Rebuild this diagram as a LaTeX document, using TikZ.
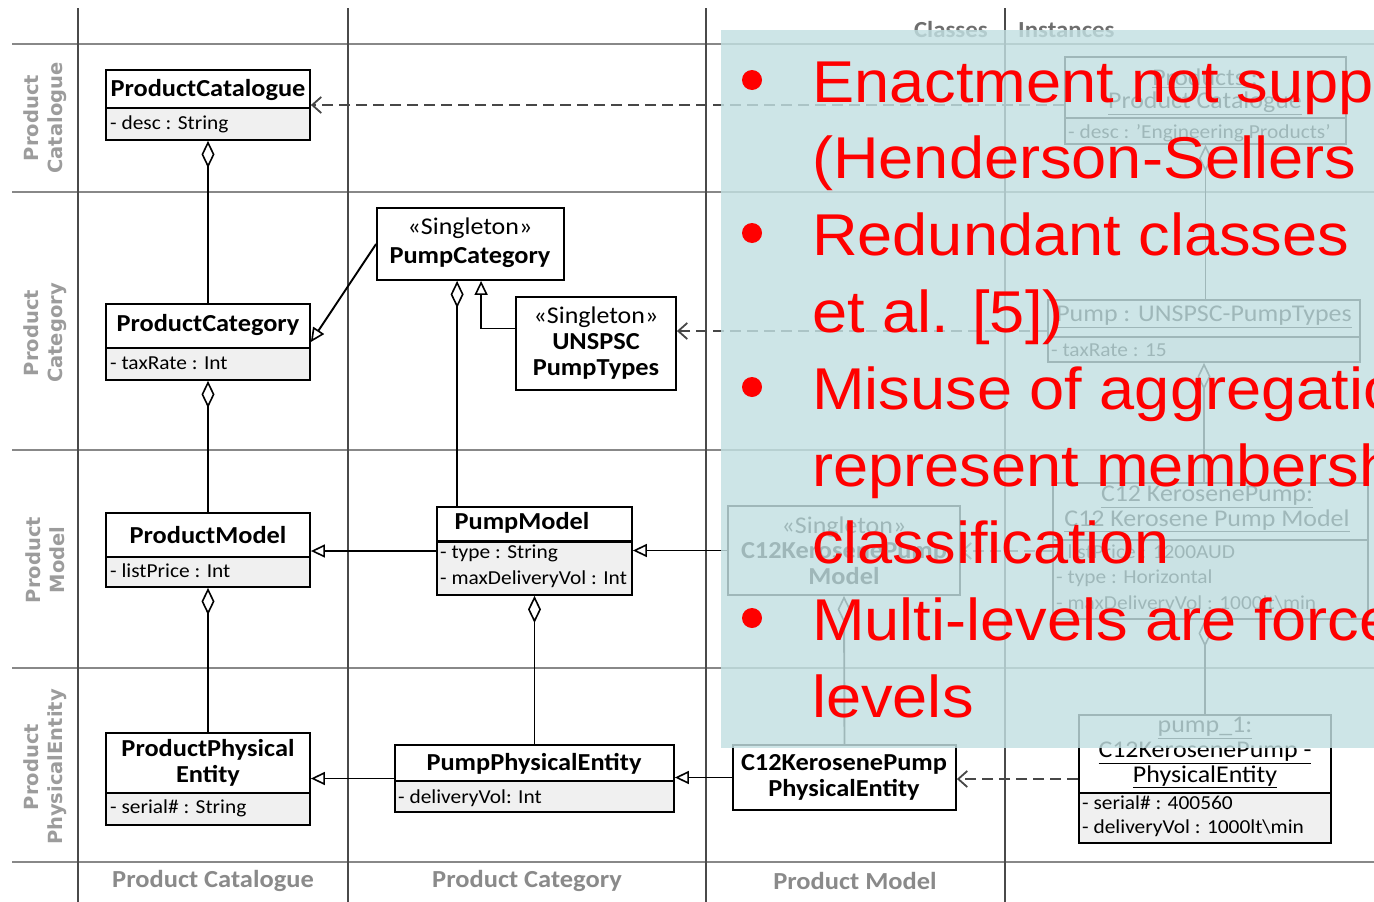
\documentclass[tikz,border=0pt]{standalone}
\usepackage{fontspec}
\setmainfont{Carlito}[FakeStretch=1.08]
\newfontfamily\rowfont{DejaVu Sans}
\newfontfamily\slidefont{Liberation Sans}[FakeStretch=1.07]
\usetikzlibrary{arrows.meta,fit,calc}

\definecolor{attrgray}{HTML}{F0F0F0}
\definecolor{rowgray}{HTML}{9C9C9C}
\definecolor{colgray}{HTML}{8A8A8A}
\definecolor{headgray}{HTML}{6E6E6E}
\definecolor{hgrid}{HTML}{888888}
\definecolor{vgrid}{HTML}{4A4A4A}
\definecolor{panel}{RGB}{194,224,226}
\definecolor{slidered}{RGB}{255,0,0}

% class box with a name compartment and a grey attribute compartment
\newcommand\clsbox[7][1.4pt]{%
  \fill[white] (#3,#4) rectangle (#5,#7);
  \fill[attrgray] (#3,#7) rectangle (#5,#6);
  \draw[line width=#1] (#3,#7) -- (#5,#7);
  \node[umlbox, fit={(#3,#4) (#5,#6)}] (#2) {};
}
% class box with a single compartment
\newcommand\plainbox[5]{%
  \fill[white] (#2,#3) rectangle (#4,#5);
  \node[umlbox, fit={(#2,#3) (#4,#5)}] (#1) {};
}

\tikzset{
  umlbox/.style={draw=black, line width=1.8pt, inner sep=0pt},
  title/.style={font=\bfseries\fontsize{24.4}{26}\selectfont, inner sep=0pt, align=center},
  stereo/.style={font=\fontsize{24}{26}\selectfont, inner sep=0pt},
  objname/.style={font=\fontsize{24}{26}\selectfont, inner sep=0pt},
  attr/.style={font=\fontsize{19.8}{22}\selectfont, anchor=west, inner sep=0pt},
  link/.style={line width=1.9pt, draw=black},
  agg/.style={link, {Diamond[open, length=27pt, width=13pt, line width=1.6pt]}-},
  gen/.style={link, -{Triangle[open, length=14pt, width=13pt, line width=1.6pt]}},
  inst/.style={line width=2.3pt, draw=black!72, dash pattern=on 11pt off 6pt,
    -{Straight Barb[length=9pt, width=16pt, line width=1.8pt]}},
  rowlabel/.style={font=\rowfont\bfseries\fontsize{19.5}{24}\selectfont, text=rowgray,
    rotate=90, align=center, inner sep=0pt},
  collabel/.style={font=\bfseries\fontsize{24.5}{26}\selectfont, text=colgray, inner sep=0pt},
  headlabel/.style={font=\bfseries\fontsize{23}{26}\selectfont, text=headgray, inner sep=0pt},
  redtxt/.style={font=\slidefont\fontsize{59}{70}\selectfont, text=slidered,
    anchor=base west, inner sep=0pt},
  bulletdot/.style={circle, fill=slidered, minimum size=20pt, inner sep=0pt},
}

\begin{document}
\begin{tikzpicture}[x=1pt, y=-1pt]
\useasboundingbox (0,0) rectangle (1374,902);
\clip (0,0) rectangle (1374,902);
\fill[white] (0,0) rectangle (1374,902);

% ---------- swimlane grid ----------
\foreach \gy in {44,192,450,668,862}
  \draw[hgrid, line width=2.4pt] (12,\gy) -- (1374,\gy);
\foreach \gx in {78,348,706,1005}
  \draw[vgrid, line width=1.2pt] (\gx,8) -- (\gx,902);

\node[rowlabel] (rl1) at (45,118) {Product\\Catalogue};
\node[rowlabel] (rl2) at (45,333) {Product\\Category};
\node[rowlabel] (rl3) at (45,560) {Product\\Model};
\node[rowlabel] (rl4) at (45,767) {Product\\PhysicalEntity};

\node[collabel] (cl1) at (213,881) {Product Catalogue};
\node[collabel] (cl2) at (527,881) {Product Category};
\node[collabel] (cl3) at (855,881) {Product Model};

\node[headlabel, anchor=east] (hcls) at (988,30) {Classes};
\node[headlabel, anchor=west] (hins) at (1018,30) {Instances};

% ---------- classes ----------
\clsbox{pcat}{106}{70}{310}{140}{108}
\node[title] (pcatT) at (208,90) {ProductCatalogue};
\node[attr] (pcatA) at (110,124) {- desc : String};

\clsbox{pcatg}{106}{304}{310}{380}{348}
\node[title] (pcatgT) at (208,325) {ProductCategory};
\node[attr] (pcatgA) at (110,363) {- taxRate : Int};

\plainbox{pumpcat}{377}{208}{564}{280}
\node[stereo] (pumpcatS) at (470,228) {«Singleton»};
\node[title] (pumpcatT) at (470,258) {PumpCategory};

\plainbox{uns}{516}{297}{676}{390}
\node[stereo] (unsS) at (596,317) {«Singleton»};
\node[title] (unsT) at (596,356) {UNSPSC\\PumpTypes};

\clsbox{pmod}{106}{513}{310}{587}{557}
\node[title] (pmodT) at (208,535) {ProductModel};
\node[attr] (pmodA) at (110,571) {- listPrice : Int};

\clsbox[3pt]{pumpmod}{437}{507}{632}{595}{541}
\node[title] (pumpmodT) at (522,523) {PumpModel};
\node[attr] (pumpmodA1) at (440,553) {- type : String};
\node[attr] (pumpmodA2) at (440,579) {- maxDeliveryVol : Int};

\clsbox{ppe}{106}{733}{310}{825}{793}
\node[title] (ppeT) at (208,763) {ProductPhysical\\Entity};
\node[attr] (ppeA) at (110,808) {- serial\# : String};

\clsbox{pumpphys}{395}{745}{674}{812}{781}
\node[title] (pumpphysT) at (534,764) {PumpPhysicalEntity};
\node[attr] (pumpphysA) at (398,798) {- deliveryVol: Int};

\plainbox{c12mod}{728}{506}{960}{595}
\node[stereo] (c12modS) at (844,527) {«Singleton»};
\node[title] (c12modT) at (844,564) {C12KerosenePump\\Model};

\plainbox{c12pe}{733}{745}{956}{810}
\node[title] (c12peT) at (844,777) {C12KerosenePump\\PhysicalEntity};

% ---------- instances ----------
\clsbox{prodinst}{1065}{57}{1346}{144}{118}
\node[objname] (prodinstT1) at (1205,78) {\underline{Products :}};
\node[objname] (prodinstT2) at (1205,103) {\underline{Product Catalogue}};
\node[attr] (prodinstA) at (1068,133) {- desc : 'Engineering Products'};

\clsbox{pumpinst}{1048}{300}{1360}{362}{337}
\node[objname] (pumpinstT) at (1204,317) {\underline{Pump : UNSPSC-PumpTypes}};
\node[attr] (pumpinstA) at (1051,350) {- taxRate : 15};

\clsbox{c12inst}{1053}{483}{1368}{619}{540}
\node[objname] (c12instT1) at (1207,497) {\underline{C12 KerosenePump:}};
\node[objname] (c12instT2) at (1207,521) {\underline{C12 Kerosene Pump Model}};
\node[attr] (c12instA1) at (1056,552) {- listPrice : 1200AUD};
\node[attr] (c12instA2) at (1056,578) {- type : Horizontal};
\node[attr] (c12instA3) at (1056,604) {- maxDeliveryVol : 1000lt\textbackslash min};

\clsbox{pump1}{1079}{715}{1331}{843}{793}
\node[objname] (pump1T1) at (1205,728) {\underline{pump\_1:}};
\node[objname] (pump1T2) at (1205,753) {\underline{C12KerosenePump -}};
\node[objname] (pump1T3) at (1205,777) {\underline{PhysicalEntity}};
\node[attr] (pump1A1) at (1082,803) {- serial\# : 400560};
\node[attr] (pump1A2) at (1082,828) {- deliveryVol : 1000lt\textbackslash min};

% ---------- connectors ----------
\draw[agg] (pcat.south) -- (pcatg.north);
\draw[agg] (pcatg.south) -- (pmod.north);
\draw[agg] (pmod.south) -- (ppe.north);
\draw[gen] (pumpcat.west) -- (pcatg.east);
\draw[agg] ([xshift=81pt]pumpcat.south west) -- ([xshift=81pt]pumpcat.south west |- pumpmod.north);
\draw[gen] ([yshift=15pt]uns.west) -| ([xshift=105pt]pumpcat.south west);
\draw[gen] (pumpmod.west) -- (pmod.east |- pumpmod.west);
\draw[agg] (pumpphys.north |- pumpmod.south) -- (pumpphys.north);
\draw[gen] (pumpphys.west) -- (ppe.east |- pumpphys.west);
\draw[gen] (c12pe.west) -- (pumpphys.east |- c12pe.west);
\draw[gen] (c12mod.west) -- (pumpmod.east |- c12mod.west);
\draw[agg] (c12mod.south) -- (c12pe.north);

\draw[inst] (prodinst.west |- pcat.east) -- (pcat.east);
\draw[inst] (pumpinst.west) -- (uns.east |- pumpinst.west);
\draw[inst] (c12inst.west) -- (c12mod.east |- c12inst.west);
\draw[inst] (pump1.west) -- (c12pe.east |- pump1.west);

\draw[agg] (prodinst.south) -- (prodinst.south |- pumpinst.north);
\draw[agg] (pumpinst.south) -- (pumpinst.south |- c12inst.north);
\draw[agg] (pump1.north |- c12inst.south) -- (pump1.north);

% ---------- text panel ----------
\fill[panel, fill opacity=0.82] (721,30) rectangle (1374,748);

\node[bulletdot] (b1) at (752,80) {};
\node[bulletdot] (b2) at (752,233) {};
\node[bulletdot] (b3) at (752,387) {};
\node[bulletdot] (b4) at (752,618) {};

\node[redtxt] (r1) at (812,102) {Enactment not supp};
\node[redtxt] (r2) at (812,178) {(Henderson-Sellers};
\node[redtxt] (r3) at (812,255) {Redundant classes};
\node[redtxt] (r4) at (812,332) {et al. [5])};
\node[redtxt] (r5) at (812,409) {Misuse of aggregatio};
\node[redtxt] (r6) at (812,486) {represent membersh};
\node[redtxt] (r7) at (812,563) {classification};
\node[redtxt] (r8) at (812,640) {Multi-levels are force};
\node[redtxt] (r9) at (812,717) {levels};
\end{tikzpicture}
\end{document}
